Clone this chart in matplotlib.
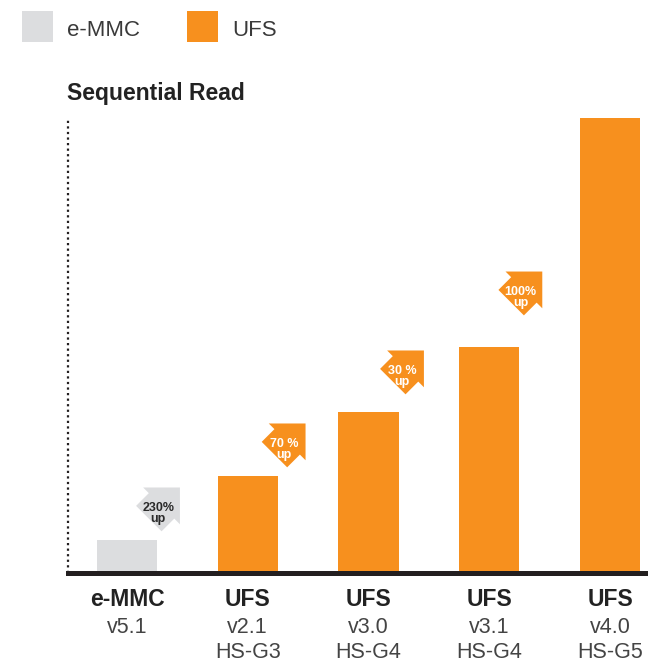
import numpy as np
import matplotlib
matplotlib.use("Agg")
import matplotlib.pyplot as plt
import matplotlib.transforms as mtransforms
from matplotlib.patches import Polygon, Rectangle

plt.rcParams['font.family'] = ['Liberation Sans', 'DejaVu Sans']

# chart data
names = ['e-MMC', 'UFS', 'UFS', 'UFS', 'UFS']
versions = ['v5.1', 'v2.1', 'v3.0', 'v3.1', 'v4.0']
gears = ['', 'HS-G3', 'HS-G4', 'HS-G4', 'HS-G5']
read_speed = [305, 895, 1485, 2085, 4200]  # relative sequential read

# "% up" arrows between bars
jump_labels = ['230%', '70 %', '30 %', '100%']
jump_x = [0.26, 1.30, 2.28, 3.26]
jump_y = [581, 1172, 1846, 2575]

GREY = '#dcdddf'
ORANGE = '#f7901e'
DARK = '#231f20'

fig = plt.figure(figsize=(6.48, 6.62), dpi=100)
ax = fig.add_axes([68 / 648, 89 / 662, 580 / 648, 463 / 662])

x = np.arange(len(read_speed))
colors = [GREY] + [ORANGE] * (len(read_speed) - 1)
ax.bar(x, read_speed, width=0.5, color=colors, zorder=2)

# thick baseline + dotted left axis
ax.axhline(0, color=DARK, lw=3.6, zorder=3, clip_on=False)
x0 = -0.488
ax.plot([x0, x0], [0, max(read_speed)], color=DARK, lw=1.6,
        linestyle=(0, (1, 1.5)), dash_capstyle='butt', clip_on=False, zorder=3)

# arrow shape (pointing up, in px), rotated to point up-right
hw, hh, sw, sl = 26, 26, 18, 18
arrow_local = np.array([[0, hh], [hw, 0], [sw, 0], [sw, -sl],
                        [-sw, -sl], [-sw, 0], [-hw, 0]])

for i, lab in enumerate(jump_labels):
    fc = GREY if i == 0 else ORANGE
    tc = '#2a2a2a' if i == 0 else 'white'
    trans = (mtransforms.Affine2D().rotate_deg(-45).translate(3.2, 4.2).scale(1 / 100)
             + fig.dpi_scale_trans
             + mtransforms.ScaledTranslation(jump_x[i], jump_y[i], ax.transData))
    ax.add_patch(Polygon(arrow_local, closed=True, transform=trans, facecolor=fc,
                         edgecolor='none', zorder=4, clip_on=False))
    ax.annotate(lab + '\nup', (jump_x[i], jump_y[i]), xytext=(0, -2.4),
                textcoords='offset points', ha='center', va='center',
                multialignment='center', linespacing=0.8,
                fontsize=9, weight='bold', color=tc, zorder=5)

# category labels under the bars
for i in range(len(names)):
    ax.annotate(names[i], (i, 0), xytext=(0, -23.8), textcoords='offset points',
                ha='center', va='baseline', fontsize=16.5, weight='bold', color='#222222',
                annotation_clip=False)
    ax.annotate(versions[i], (i, 0), xytext=(0, -43.2), textcoords='offset points',
                ha='center', va='baseline', fontsize=15.5, color='#444444',
                annotation_clip=False)
    if gears[i]:
        ax.annotate(gears[i], (i, 0), xytext=(0, -61.2), textcoords='offset points',
                    ha='center', va='baseline', fontsize=15.5, color='#444444',
                    annotation_clip=False)

ax.set_xlim(x0, 4.314)
ax.set_ylim(0, 4275)
ax.axis('off')

# title and legend
fig.text(67 / 648, 1 - 100 / 662, 'Sequential Read', ha='left', va='baseline',
         fontsize=16.5, weight='bold', color='#222222')
for lx, tx, col, lab in [(22, 67, GREY, 'e-MMC'), (187, 232, ORANGE, 'UFS')]:
    fig.add_artist(Rectangle((lx / 648, 1 - 42 / 662), 31 / 648, 31 / 662,
                             transform=fig.transFigure, facecolor=col, edgecolor='none'))
    fig.text(tx / 648, 1 - 36 / 662, lab, ha='left', va='baseline', fontsize=16,
             color='#3a3a3a')

fig.savefig('out.png', dpi=100)
